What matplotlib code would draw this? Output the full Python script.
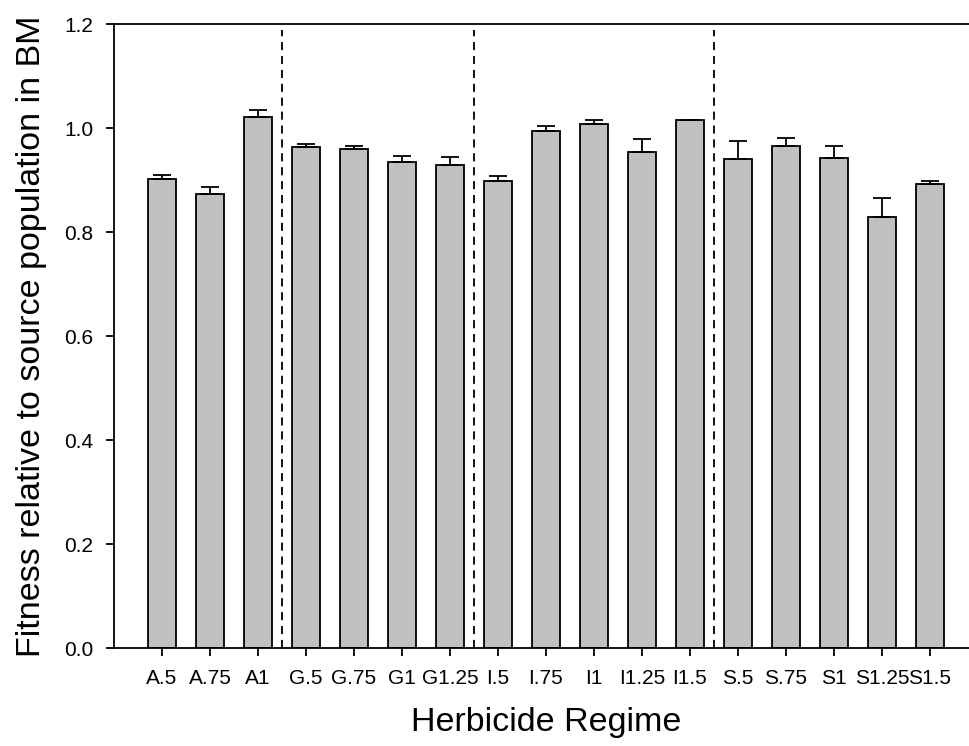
import matplotlib

matplotlib.use("Agg")
import matplotlib.pyplot as plt
import numpy as np

# Values.
regimes = ["A.5", "A.75", "A1", "G.5", "G.75", "G1", "G1.25", "I.5", "I.75",
           "I1", "I1.25", "I1.5", "S.5", "S.75", "S1", "S1.25", "S1.5"]
fitness = [0.902, 0.874, 1.022, 0.964, 0.960, 0.935, 0.928, 0.899, 0.995,
           1.008, 0.954, 1.015, 0.940, 0.965, 0.943, 0.829, 0.892]
fitness_se = [0.008, 0.012, 0.013, 0.005, 0.006, 0.012, 0.016, 0.008, 0.009,
              0.007, 0.024, 0.0, 0.035, 0.016, 0.022, 0.036, 0.007]
# group boundaries: after A1, G1.25, I1.5
group_breaks = [2.5, 6.5, 11.5]
y_ticks = [0.0, 0.2, 0.4, 0.6, 0.8, 1.0, 1.2]

plt.rcParams["font.family"] = ["Liberation Sans", "DejaVu Sans"]

fig = plt.figure(figsize=(9.70, 7.46), dpi=100)
ax = fig.add_axes([114 / 970, 98 / 746, 864 / 970, 624 / 746])

x = np.arange(len(regimes))
lw = 1.3
ax.bar(x, fitness, width=0.6, color="#c0c0c0", edgecolor="black",
       linewidth=lw, zorder=2)
ax.errorbar(x, fitness, yerr=[np.zeros(len(fitness)), fitness_se], fmt="none",
            ecolor="black", elinewidth=lw, capsize=6.5, capthick=lw, zorder=3)

for b in group_breaks:
    ax.plot([b, b], [0, 1.188], color="black", linewidth=lw,
            linestyle=(0, (4.5, 3.2)), zorder=1)

ax.set_xlim(-1, 17)
ax.set_ylim(0, 1.2)
ax.set_xticks(x)
ax.set_xticklabels(regimes)
ax.set_yticks(y_ticks)
ax.set_yticklabels([f"{v:.1f}" for v in y_ticks])
ax.tick_params(direction="out", length=6, width=lw, labelsize=15, pad=9,
               colors="black")
for side in ("left", "bottom", "top"):
    ax.spines[side].set_linewidth(lw)
ax.spines["right"].set_visible(False)

ax.set_xlabel("Herbicide Regime", fontsize=24.5, labelpad=14)
ax.set_ylabel("Fitness relative to source population in BM", fontsize=24.5,
              labelpad=12)

fig.savefig("out.png", dpi=100)
